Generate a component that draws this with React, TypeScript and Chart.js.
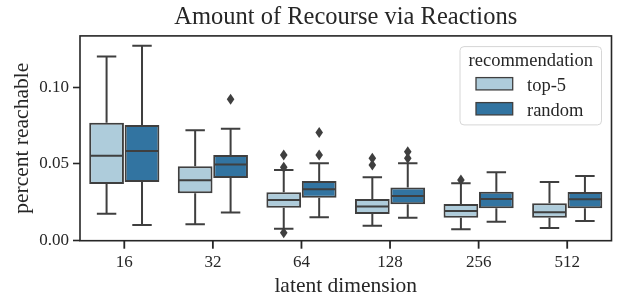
import React, { useEffect, useRef } from 'react';
import { Chart, registerables } from 'chart.js';

Chart.register(...registerables);

// ---------- data ----------
const categories = ['16', '32', '64', '128', '256', '512'];
const seriesNames = ['top-5', 'random'];

const top5Min = [0.0176, 0.0107, 0.0078, 0.0098, 0.0074, 0.0083];
const top5Q1 = [0.037, 0.0309, 0.0215, 0.0174, 0.015, 0.015];
const top5Median = [0.0554, 0.0394, 0.0265, 0.0222, 0.0194, 0.0185];
const top5Q3 = [0.0769, 0.0485, 0.0316, 0.0272, 0.0239, 0.0244];
const top5Max = [0.12, 0.072, 0.0461, 0.0413, 0.0374, 0.0383];
const top5Outliers = [[], [], [0.0559, 0.0478, 0.0052], [0.0537, 0.0493], [0.0396], []];

const randomMin = [0.0102, 0.0183, 0.0153, 0.015, 0.0124, 0.0128];
const randomQ1 = [0.0383, 0.0409, 0.028, 0.0237, 0.0211, 0.0211];
const randomMedian = [0.0585, 0.0496, 0.0335, 0.0291, 0.0272, 0.027];
const randomQ3 = [0.0754, 0.0559, 0.0389, 0.0346, 0.0319, 0.0317];
const randomMax = [0.127, 0.073, 0.0505, 0.0505, 0.0446, 0.0422];
const randomOutliers = [[], [0.0922], [0.0704, 0.0559], [0.058, 0.0537], [], []];

const yTickValues = [0, 0.05, 0.1];

// ---------- styles ----------
const FONT = "'Liberation Serif', 'DejaVu Serif', serif";
const TEXT = '#262626';
const EDGE = '#3f3f3f';
const COLORS = ['#aeccdb', '#3274a1'];

const stats = [
  { min: top5Min, q1: top5Q1, med: top5Median, q3: top5Q3, max: top5Max, out: top5Outliers },
  { min: randomMin, q1: randomQ1, med: randomMedian, q3: randomQ3, max: randomMax, out: randomOutliers },
];

const boxExtras = {
  id: 'boxExtras',
  afterDatasetsDraw(chart: any) {
    const ctx = chart.ctx;
    const ys = chart.scales.y;
    stats.forEach((s, di) => {
      const meta = chart.getDatasetMeta(di);
      meta.data.forEach((bar: any, i: number) => {
        const { x, width } = bar.getProps(['x', 'width'], true);
        const half = width / 2;
        const cap = width * 0.28;
        const py = (v: number) => ys.getPixelForValue(v);
        ctx.save();
        ctx.strokeStyle = EDGE;
        ctx.lineWidth = 2;
        ctx.beginPath();
        ctx.moveTo(x, py(s.q3[i]));
        ctx.lineTo(x, py(s.max[i]));
        ctx.moveTo(x, py(s.q1[i]));
        ctx.lineTo(x, py(s.min[i]));
        ctx.moveTo(x - cap, py(s.max[i]));
        ctx.lineTo(x + cap, py(s.max[i]));
        ctx.moveTo(x - cap, py(s.min[i]));
        ctx.lineTo(x + cap, py(s.min[i]));
        ctx.moveTo(x - half + 1, py(s.med[i]));
        ctx.lineTo(x + half - 1, py(s.med[i]));
        ctx.stroke();
        ctx.fillStyle = EDGE;
        s.out[i].forEach((v: number) => {
          const cy = py(v);
          ctx.beginPath();
          ctx.moveTo(x, cy - 5.5);
          ctx.lineTo(x + 3.8, cy);
          ctx.lineTo(x, cy + 5.5);
          ctx.lineTo(x - 3.8, cy);
          ctx.closePath();
          ctx.fill();
        });
        ctx.restore();
      });
    });
  },
};

const frameAndLegend = {
  id: 'frameAndLegend',
  afterDraw(chart: any) {
    const ctx = chart.ctx;
    const a = chart.chartArea;
    const xs = chart.scales.x;
    ctx.save();
    ctx.strokeStyle = TEXT;
    ctx.lineWidth = 1.6;
    ctx.strokeRect(a.left, a.top, a.right - a.left, a.bottom - a.top);

    // legend
    const L = a.right - 151.5;
    const R = a.right - 10;
    const T = a.top + 10.7;
    const B = a.top + 89;
    const r = 4;
    ctx.beginPath();
    ctx.moveTo(L + r, T);
    ctx.lineTo(R - r, T);
    ctx.quadraticCurveTo(R, T, R, T + r);
    ctx.lineTo(R, B - r);
    ctx.quadraticCurveTo(R, B, R - r, B);
    ctx.lineTo(L + r, B);
    ctx.quadraticCurveTo(L, B, L, B - r);
    ctx.lineTo(L, T + r);
    ctx.quadraticCurveTo(L, T, L + r, T);
    ctx.closePath();
    ctx.fillStyle = 'rgba(255,255,255,0.8)';
    ctx.fill();
    ctx.strokeStyle = '#d6d6d6';
    ctx.lineWidth = 1;
    ctx.stroke();

    ctx.fillStyle = TEXT;
    ctx.font = `18.5px ${FONT}`;
    ctx.textBaseline = 'alphabetic';
    ctx.textAlign = 'center';
    ctx.fillText('recommendation', (L + R) / 2, a.top + 30);
    ctx.textAlign = 'left';
    seriesNames.forEach((name, k) => {
      const sy = a.top + 41.7 + k * 25;
      ctx.fillStyle = COLORS[k];
      ctx.fillRect(L + 16, sy, 36.7, 12.3);
      ctx.strokeStyle = EDGE;
      ctx.lineWidth = 1.3;
      ctx.strokeRect(L + 16, sy, 36.7, 12.3);
      ctx.fillStyle = TEXT;
      ctx.fillText(name, L + 67, sy + 13.3);
    });

    // x tick marks at category centres
    ctx.fillStyle = TEXT;
    categories.forEach((_, i) => {
      const px = xs.getPixelForTick(i);
      ctx.fillRect(px - 0.9, a.bottom, 1.8, 8);
    });
    ctx.restore();
  },
};

export default function App() {
  const ref = useRef<HTMLCanvasElement>(null);

  useEffect(() => {
    document.body.style.margin = '0';
    const canvas = ref.current;
    if (!canvas) return;

    const datasets = stats.map((s, k) => ({
      label: seriesNames[k],
      data: categories.map((_, i) => [s.q1[i], s.q3[i]]),
      backgroundColor: COLORS[k],
      borderColor: EDGE,
      borderWidth: 2,
      borderSkipped: false,
      categoryPercentage: 0.8,
      barPercentage: 0.98,
    }));

    const chart = new Chart(canvas, {
      type: 'bar',
      data: { labels: categories, datasets: datasets as any },
      plugins: [boxExtras, frameAndLegend],
      options: {
        responsive: false,
        animation: false,
        events: [],
        layout: { padding: { left: 0, right: 10.5, top: 0, bottom: 0 } },
        plugins: {
          legend: { display: false },
          tooltip: { enabled: false },
          title: {
            display: true,
            fullSize: false,
            text: 'Amount of Recourse via Reactions',
            color: TEXT,
            font: { family: FONT, size: 24.5, weight: 'normal' },
            padding: { top: 2.5, bottom: 4 },
          },
        },
        scales: {
          x: {
            grid: { display: false, drawTicks: false, tickLength: 0 },
            border: { display: false },
            ticks: { color: TEXT, font: { family: FONT, size: 17 }, padding: 12 },
            title: {
              display: true,
              text: 'latent dimension',
              color: TEXT,
              font: { family: FONT, size: 21.5 },
              padding: { top: 0, bottom: 8 },
            },
            afterFit(s: any) {
              s.height = 66.3;
            },
          },
          y: {
            min: 0,
            max: 0.1334,
            grid: {
              display: true,
              drawOnChartArea: false,
              drawTicks: true,
              tickLength: 7,
              tickWidth: 1.6,
              tickColor: TEXT,
            },
            border: { display: false },
            afterBuildTicks(s: any) {
              s.ticks = yTickValues.map((v) => ({ value: v }));
            },
            ticks: {
              color: TEXT,
              font: { family: FONT, size: 17 },
              padding: 4,
              callback: (v: any) => Number(v).toFixed(2),
            },
            title: {
              display: true,
              text: 'percent reachable',
              color: TEXT,
              font: { family: FONT, size: 21.5 },
              padding: { top: 9, bottom: 0 },
            },
            afterFit(s: any) {
              s.width = 80;
            },
          },
        },
      } as any,
    });
    return () => chart.destroy();
  }, []);

  return (
    <div style={{ width: 622, height: 307 }}>
      <canvas ref={ref} width={622} height={307} style={{ display: 'block', width: 622, height: 307 }} />
    </div>
  );
}
